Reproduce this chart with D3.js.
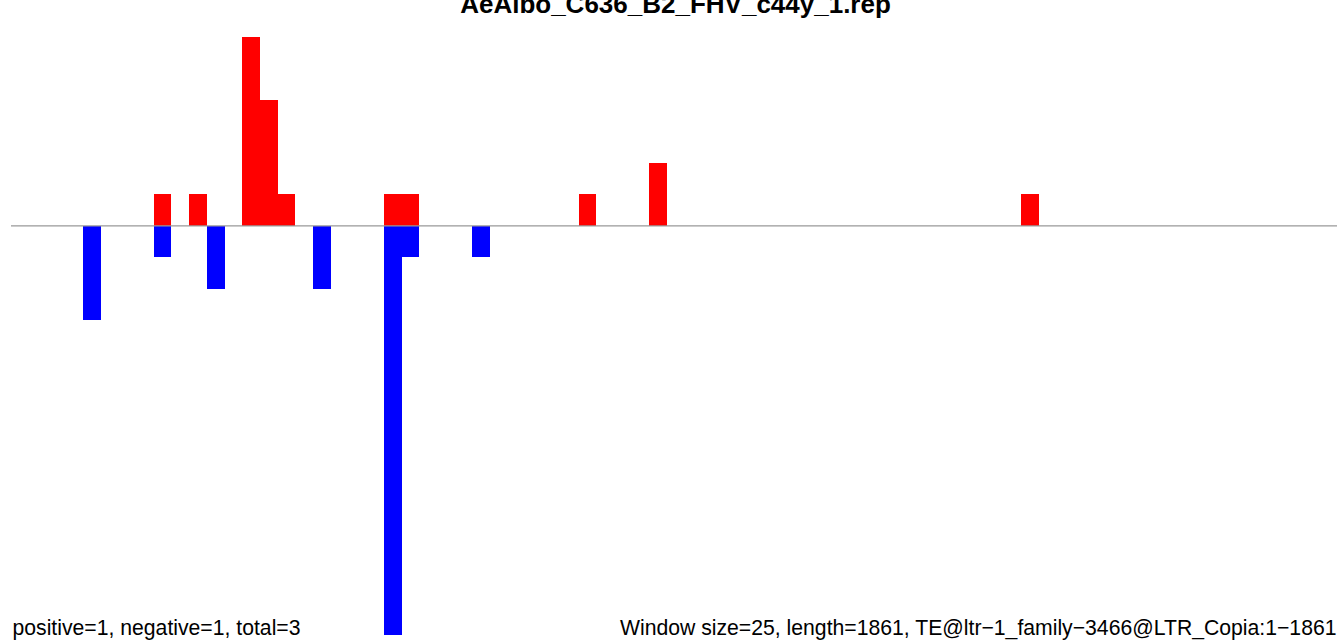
<!DOCTYPE html>
<html>
<head>
<meta charset="utf-8">
<script src="https://cdn.jsdelivr.net/npm/d3@7"></script>
<style>
  html, body { margin: 0; padding: 0; background: #fff; }
  svg { display: block; }
  text { font-family: "Liberation Sans", Arial, Helvetica, sans-serif; }
</style>
</head>
<body>
<script>
// ---- data ----
const titleText = "AeAlbo_C636_B2_FHV_c44y_1.rep";
const leftNote = "positive=1, negative=1, total=3";
const rightNote = "Window size=25, length=1861, TE@ltr\u22121_family\u22123466@LTR_Copia:1\u22121861";
const windowCount = 75;           // ceil(1861 / 25)
// positive-strand counts: window index and count
const posWindows = [8, 10, 13, 14, 15, 21, 22, 32, 36, 57];
const posCounts  = [1, 1, 6, 4, 1, 1, 1, 1, 2, 1];
// negative-strand counts: window index and count
const negWindows = [4, 8, 11, 17, 21, 22, 26];
const negCounts  = [3, 1, 2, 2, 13, 1, 1];
const yExtent = [-13, 6];

// ---- drawing ----
const W = 1337, H = 641;
const svg = d3.select("body").append("svg").attr("width", W).attr("height", H);

const x = d3.scaleLinear().domain([0, windowCount]).range([12.2, 1339.6]);
const y = d3.scaleLinear().domain(yExtent).range([635, 37]);

const posData = posWindows.map((w, i) => ({ w, v: posCounts[i] }));
const negData = negWindows.map((w, i) => ({ w, v: -negCounts[i] }));

svg.append("g").attr("shape-rendering", "crispEdges")
  .selectAll("rect").data(posData).join("rect")
  .attr("x", d => x(d.w))
  .attr("width", d => x(d.w + 1) - x(d.w))
  .attr("y", d => y(d.v))
  .attr("height", d => y(0) - y(d.v))
  .attr("fill", "#ff0000");

svg.append("g").attr("shape-rendering", "crispEdges")
  .selectAll("rect").data(negData).join("rect")
  .attr("x", d => x(d.w))
  .attr("width", d => x(d.w + 1) - x(d.w))
  .attr("y", y(0))
  .attr("height", d => y(d.v) - y(0))
  .attr("fill", "#0000ff");

svg.append("line")
  .attr("x1", 11).attr("x2", W)
  .attr("y1", y(0)).attr("y2", y(0))
  .attr("stroke", "#999999").attr("stroke-width", 1.3);

svg.append("text")
  .attr("x", 675.5).attr("y", 12.7)
  .attr("text-anchor", "middle")
  .attr("font-weight", "bold")
  .attr("font-size", "26px")
  .text(titleText);

svg.append("text")
  .attr("x", 12.5).attr("y", 635)
  .attr("font-size", "21.2px")
  .text(leftNote);

svg.append("text")
  .attr("x", 1336.5).attr("y", 635)
  .attr("text-anchor", "end")
  .attr("font-size", "21.2px")
  .text(rightNote);
</script>
</body>
</html>
